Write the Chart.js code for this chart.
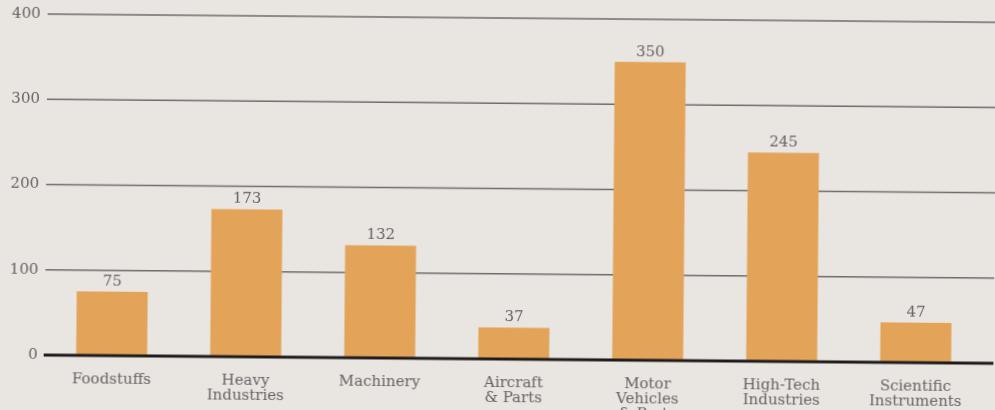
<!DOCTYPE html>
<html>
<head>
<meta charset="utf-8">
<script src="https://cdn.jsdelivr.net/npm/chart.js@4"></script>
<style>
  html, body { margin: 0; padding: 0; background: #e9e6e2; overflow: hidden; }
  #wrap { width: 995px; height: 410px; transform: rotate(0.5deg); transform-origin: 50% 50%; }
</style>
</head>
<body>
<div id="wrap"><canvas id="chart" width="995" height="410"></canvas></div>
<script>
// Data
const categories = [
  ['Foodstuffs'],
  ['Heavy', 'Industries'],
  ['Machinery'],
  ['Aircraft', '& Parts'],
  ['Motor', 'Vehicles', '& Parts'],
  ['High-Tech', 'Industries'],
  ['Scientific', 'Instruments']
];
const values = [75, 173, 132, 37, 350, 245, 47];
const yTicks = [0, 100, 200, 300, 400];

const FONT = "'DejaVu Serif', 'Liberation Serif', serif";
const TEXT = '#676163';

// Grid lines that run from the axis to the right edge of the page, plus the heavy zero line
const gridPlugin = {
  id: 'gridLines',
  beforeDatasetsDraw(chart) {
    const { ctx, chartArea, scales } = chart;
    ctx.save();
    ctx.strokeStyle = '#716b6b';
    ctx.lineWidth = 1.5;
    yTicks.forEach(v => {
      if (v === 0) return;
      const y = scales.y.getPixelForValue(v);
      ctx.beginPath();
      ctx.moveTo(chartArea.left, y);
      ctx.lineTo(chart.width, y);
      ctx.stroke();
    });
    ctx.restore();
  },
  afterDatasetsDraw(chart) {
    const { ctx, chartArea, scales } = chart;
    const y = scales.y.getPixelForValue(0);
    ctx.save();
    ctx.strokeStyle = '#1f1b1b';
    ctx.lineWidth = 3;
    ctx.beginPath();
    ctx.moveTo(chartArea.left - 1, y);
    ctx.lineTo(chart.width, y);
    ctx.stroke();

    // value labels above each bar
    ctx.fillStyle = TEXT;
    ctx.font = '15px ' + FONT;
    ctx.textAlign = 'center';
    ctx.textBaseline = 'middle';
    chart.getDatasetMeta(0).data.forEach((bar, i) => {
      ctx.fillText(String(values[i]), bar.x, bar.y - 10);
    });
    ctx.restore();
  }
};

new Chart(document.getElementById('chart'), {
  type: 'bar',
  data: {
    labels: categories,
    datasets: [{
      data: values,
      backgroundColor: '#e3a45a',
      borderWidth: 0,
      barPercentage: 0.53,
      categoryPercentage: 1
    }]
  },
  options: {
    responsive: false,
    animation: false,
    layout: { padding: { top: 18, right: 11, left: 0, bottom: 0 } },
    plugins: { legend: { display: false }, tooltip: { enabled: false } },
    scales: {
      x: {
        grid: { display: false, drawTicks: false },
        border: { display: false },
        ticks: {
          color: TEXT,
          padding: 17,
          maxRotation: 0,
          autoSkip: false,
          font: { family: FONT, size: 15, lineHeight: 1.0 }
        },
        afterFit(scale) { scale.height = 51; }
      },
      y: {
        min: 0,
        max: 400,
        grid: { display: false, drawTicks: false },
        border: { display: false },
        afterBuildTicks(scale) { scale.ticks = yTicks.map(v => ({ value: v })); },
        ticks: {
          color: TEXT,
          padding: 7,
          font: { family: FONT, size: 15 }
        },
        afterFit(scale) { scale.width = 46; }
      }
    }
  },
  plugins: [gridPlugin]
});
</script>
</body>
</html>
